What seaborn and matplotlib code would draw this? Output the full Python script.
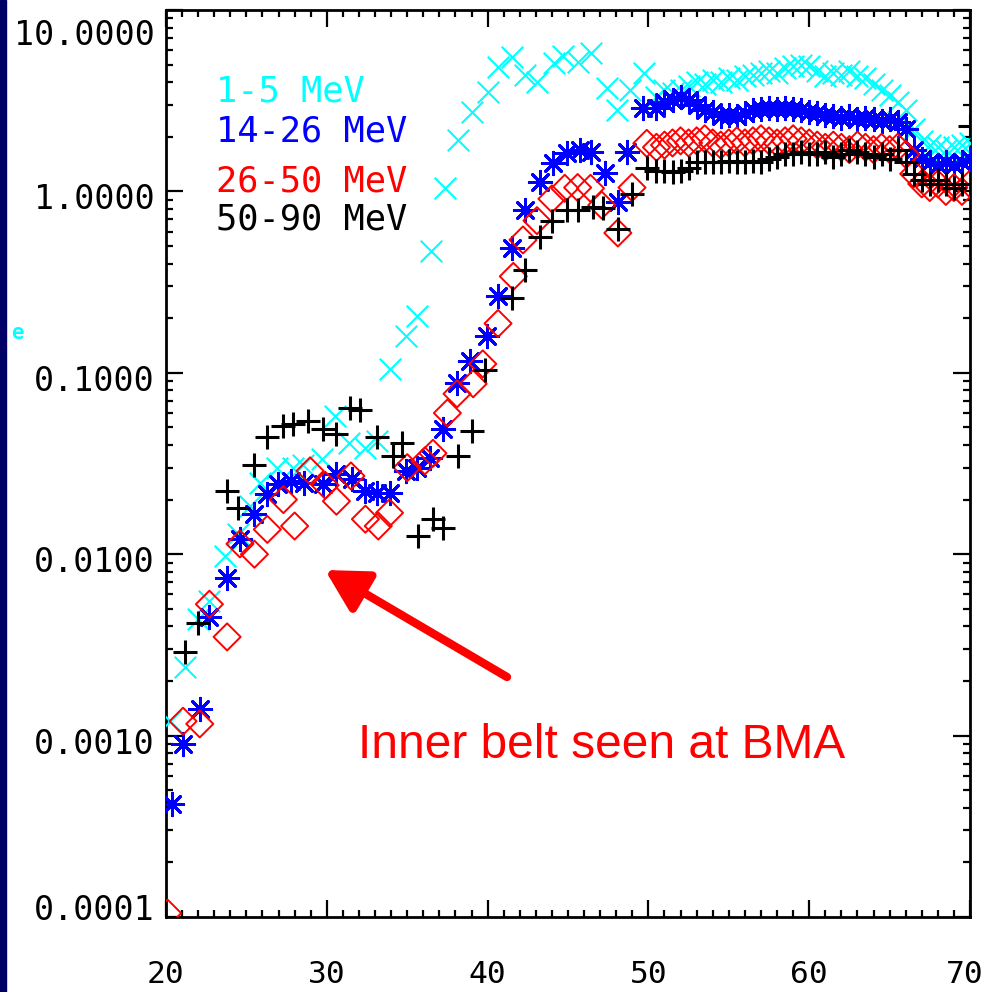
import numpy as np
import pandas as pd
import matplotlib
matplotlib.use("Agg")
import matplotlib.pyplot as plt
from matplotlib.ticker import FixedLocator, LogLocator, NullFormatter, MultipleLocator
from matplotlib.transforms import ScaledTranslation
import seaborn as sns

# ---------------- data ----------------
L_c = [20.25, 21.2, 22.0, 22.7, 23.7, 24.5, 25.2, 25.85, 26.9, 27.9, 28.5, 29.7, 30.5, 31.4,
       32.4, 33.1, 33.9, 34.9, 35.6, 36.5, 37.35, 38.15, 39.0, 40.0, 40.65, 41.5, 42.3, 43.1,
       44.1, 44.7, 45.6, 46.4, 47.4, 48.05, 48.85, 49.7,
       50.5, 51, 51.5, 52, 52.5, 53, 53.5, 54, 54.5, 55, 55.5, 56, 56.5, 57, 57.5, 58, 58.5,
       59, 59.5, 60, 60.5, 61, 61.5, 62, 62.5, 63, 63.5, 64, 64.5, 65, 65.5, 66, 66.5, 67,
       67.5, 68, 68.5, 69, 69.5, 70]
v_c = [0.0012, 0.0024, 0.0044, 0.0055, 0.0098, 0.0129, 0.0184, 0.0247, 0.030, 0.030, 0.031,
       0.0335, 0.058, 0.041, 0.0385, 0.042, 0.105, 0.16, 0.206, 0.47, 1.05, 1.91, 2.73, 3.52,
       4.84, 5.5, 4.37, 4.0, 5.1, 5.6, 5.16, 5.8, 3.7, 2.8, 3.6, 4.5,
       3.3, 3.6, 3.5, 3.6, 3.8, 4.0, 3.9, 4.1, 4.0, 4.2, 4.1, 4.3, 4.4, 4.5, 4.6, 4.5, 4.8,
       4.9, 5.0, 4.9, 4.6, 4.3, 4.5, 4.4, 4.6, 4.3, 4.2, 3.9, 3.6, 3.4, 3.1, 2.8, 2.2, 1.9,
       1.8, 1.75, 1.7, 1.75, 1.8, 1.85]

L_b = [20.37, 21.06, 22.1, 22.7, 23.8, 24.6, 25.5, 26.3, 26.97, 27.8, 28.6, 29.76, 30.6, 31.57,
       32.4, 33.1, 33.9, 34.9, 35.6, 36.4, 37.2, 38.1, 38.9, 39.96, 40.65, 41.5, 42.3, 43.26,
       44.07, 44.94, 45.75, 46.4, 47.3, 48.1, 48.7, 49.66,
       50.5, 51, 51.5, 52, 52.5, 53, 53.5, 54, 54.5, 55, 55.5, 56, 56.5, 57, 57.5, 58, 58.5,
       59, 59.5, 60, 60.5, 61, 61.5, 62, 62.5, 63, 63.5, 64, 64.5, 65, 65.5, 66, 66.5, 67,
       67.5, 68, 68.5, 69, 69.5, 70]
v_b = [0.00042, 0.0009, 0.0014, 0.0045, 0.0074, 0.0121, 0.0166, 0.0214, 0.0244, 0.0253, 0.0247,
       0.0244, 0.0277, 0.026, 0.0223, 0.0217, 0.0217, 0.0288, 0.030, 0.034, 0.049, 0.088, 0.116,
       0.16, 0.266, 0.49, 0.785, 1.12, 1.43, 1.62, 1.69, 1.64, 1.27, 0.87, 1.64, 2.88,
       2.9, 3.1, 3.2, 3.3, 3.2, 3.0, 2.8, 2.75, 2.6, 2.65, 2.6, 2.7, 2.8, 2.85, 2.9, 2.85, 2.9,
       2.85, 2.8, 2.75, 2.7, 2.65, 2.6, 2.55, 2.6, 2.5, 2.55, 2.5, 2.45, 2.5, 2.4, 2.2, 1.7, 1.5,
       1.45, 1.4, 1.45, 1.4, 1.45, 1.5]

L_r = [20.1, 21.06, 22.1, 22.7, 23.8, 24.6, 25.5, 26.3, 27.3, 28.0, 28.96, 29.9, 30.6, 31.5,
       32.4, 33.2, 33.9, 35.0, 36.1, 36.6, 37.5, 38.1, 39.1, 39.7, 40.65, 41.6, 42.2, 43.07,
       44.0, 44.8, 45.6, 46.4, 47.1, 48.1, 48.98, 49.9,
       50.5, 51, 51.5, 52, 52.5, 53, 53.5, 54, 54.5, 55, 55.5, 56, 56.5, 57, 57.5, 58, 58.5,
       59, 59.5, 60, 60.5, 61, 61.5, 62, 62.5, 63, 63.5, 64, 64.5, 65, 65.5, 66, 66.5, 67,
       67.5, 68, 68.5, 69, 69.5, 70]
v_r = [0.000105, 0.0012, 0.00116, 0.0053, 0.0035, 0.0114, 0.010, 0.0137, 0.020, 0.0143, 0.0288,
       0.024, 0.0196, 0.027, 0.0156, 0.0143, 0.0169, 0.030, 0.0327, 0.036, 0.060, 0.0766, 0.087,
       0.112, 0.187, 0.34, 0.54, 0.69, 0.91, 1.04, 1.05, 1.04, 0.84, 0.59, 1.05, 1.84,
       1.75, 1.8, 1.85, 1.9, 1.85, 1.9, 1.95, 1.85, 1.8, 1.85, 1.9, 1.85, 1.9, 1.95, 1.9, 1.85,
       1.9, 1.95, 1.9, 1.85, 1.8, 1.75, 1.8, 1.75, 1.7, 1.8, 1.75, 1.7, 1.75, 1.7, 1.75, 1.6,
       1.25, 1.1, 1.05, 1.1, 1.0, 1.05, 1.0, 1.1]

L_k = [21.2, 22.0, 23.8, 24.5, 25.5, 26.3, 27.3, 27.9, 28.8, 29.76, 30.6, 31.44, 32.06, 33.1,
       34.1, 34.7, 35.67, 36.6, 37.2, 38.16, 39.03, 39.84, 41.5, 42.3, 43.26, 44.0, 44.94, 45.6,
       46.55, 47.2, 48.1, 48.98, 49.9,
       50.5, 51, 51.5, 52, 52.5, 53, 53.5, 54, 54.5, 55, 55.5, 56, 56.5, 57, 57.5, 58, 58.5,
       59, 59.5, 60, 60.5, 61, 61.5, 62, 62.5, 63, 63.5, 64, 64.5, 65, 65.5, 66, 66.5, 67,
       67.5, 68, 68.5, 69, 69.5, 70]
v_k = [0.0029, 0.0042, 0.0223, 0.018, 0.031, 0.044, 0.051, 0.052, 0.054, 0.049, 0.046, 0.064,
       0.062, 0.044, 0.035, 0.041, 0.0126, 0.0156, 0.0139, 0.035, 0.048, 0.103, 0.26, 0.37, 0.56,
       0.69, 0.79, 0.79, 0.82, 0.81, 0.62, 0.97, 1.34,
       1.3, 1.3, 1.28, 1.3, 1.35, 1.45, 1.45, 1.45, 1.45, 1.48, 1.45, 1.45, 1.48, 1.45, 1.5,
       1.55, 1.6, 1.6, 1.65, 1.6, 1.6, 1.65, 1.55, 1.6, 1.7, 1.65, 1.6, 1.55, 1.6, 1.5, 1.7,
       1.45, 1.25, 1.15, 1.1, 1.15, 1.1, 1.05, 1.1, 2.3]

series_labels = ["1-5 MeV", "14-26 MeV", "26-50 MeV", "50-90 MeV"]
series_colors = ["#00ffff", "#0000ff", "#ff0000", "#000000"]
ytick_vals = [1e-4, 1e-3, 1e-2, 1e-1, 1e0, 1e1]
ytick_labels = ["0.0001", "0.0010", "0.0100", "0.1000", "1.0000", "10.0000"]
xtick_vals = [20, 30, 40, 50, 60, 70]
annotation_text = "Inner belt seen at BMA"

# ---------------- figure ----------------
sns.set_style("ticks")
plt.rcParams['font.family'] = ['DejaVu Sans Mono', 'DejaVu Sans']

W, H = 988, 992
fig = plt.figure(figsize=(W / 100, H / 100), dpi=100)
fig.patch.set_facecolor("white")
ax = fig.add_axes([166 / W, 1 - 917 / H, (970 - 166) / W, (917 - 10) / H])
ax.set_facecolor("white")

# left navy strip
fig.patches.append(plt.Rectangle((0, 0), 6 / W, 1, transform=fig.transFigure,
                                 color="#000066", zorder=0))

df_c = pd.DataFrame({"L": L_c, "v": v_c})
df_b = pd.DataFrame({"L": L_b, "v": v_b})
df_r = pd.DataFrame({"L": L_r, "v": v_r})
df_k = pd.DataFrame({"L": L_k, "v": v_k})

sns.scatterplot(data=df_c, x="L", y="v", ax=ax, marker="x", color=series_colors[0],
                s=240, linewidth=1.5, zorder=3)
sns.scatterplot(data=df_b, x="L", y="v", ax=ax, marker=(8, 2, 0), color=series_colors[1],
                s=260, linewidth=2.1, zorder=4)
sns.scatterplot(data=df_r, x="L", y="v", ax=ax, marker="D", s=190, facecolors="none",
                edgecolor=series_colors[2], linewidth=1.4, zorder=5)
sns.scatterplot(data=df_k, x="L", y="v", ax=ax, marker="+", color=series_colors[3],
                s=280, linewidth=2.2, zorder=6)

ax.set_yscale("log")
ax.set_xlim(20, 70)
ax.set_ylim(1e-4, 1e1)
ax.set_xlabel("")
ax.set_ylabel("")

ax.xaxis.set_major_locator(FixedLocator(xtick_vals))
ax.xaxis.set_minor_locator(MultipleLocator(1))
ax.set_xticks(xtick_vals)
ax.set_xticklabels([str(v) for v in xtick_vals])
ax.set_yticks(ytick_vals)
ax.set_yticklabels(ytick_labels)
ax.yaxis.set_minor_locator(LogLocator(base=10, subs=np.arange(2, 10) * 1.0, numticks=20))
ax.yaxis.set_minor_formatter(NullFormatter())

for s in ax.spines.values():
    s.set_visible(True)
    s.set_linewidth(2.0)
    s.set_color("black")

ax.tick_params(which="both", direction="in", top=True, right=True, colors="black")
ax.tick_params(which="major", length=12, width=1.6)
ax.tick_params(which="minor", length=5, width=1.6)
ax.tick_params(axis="y", which="major", labelsize=24, pad=8)
ax.tick_params(axis="x", which="major", labelsize=22.5, pad=31)

# IDL-style label offsets for end labels
ylabels = ax.get_yticklabels()
offs = {0: 10, 5: -22}
for i, lab in enumerate(ylabels):
    dy = offs.get(i, -5)
    lab.set_transform(lab.get_transform() + ScaledTranslation(0, dy / 100, fig.dpi_scale_trans))
xlabels = ax.get_xticklabels()
xlabels[-1].set_transform(xlabels[-1].get_transform()
                          + ScaledTranslation(-5 / 100, 0, fig.dpi_scale_trans))

# legend-like text
legend_y = [92, 132, 181, 220]
for lab, col, yy in zip(series_labels, series_colors, legend_y):
    fig.text(216 / W, 1 - yy / H, lab, color=col, fontsize=25.5, va="center", ha="left",
             family=['DejaVu Sans Mono'])

# small cyan glyph at left edge
fig.text(17 / W, 1 - 333 / H, "e", color="#00ffff", fontsize=15, va="center", ha="center",
         family=['DejaVu Sans Mono'], weight="bold")

# annotation
fig.text(358 / W, 1 - 745 / H, annotation_text, color="#ff0000", fontsize=34.5,
         va="center", ha="left", family=["Liberation Sans", "DejaVu Sans"])
ax.annotate("", xy=(325, H - 570), xycoords="figure pixels",
            xytext=(507, H - 677), textcoords="figure pixels",
            arrowprops=dict(arrowstyle="-|>,head_length=0.6,head_width=0.33", color="#ff0000",
                            lw=6, mutation_scale=42, shrinkA=0, shrinkB=0))

fig.savefig("out.png", dpi=100, facecolor="white")
